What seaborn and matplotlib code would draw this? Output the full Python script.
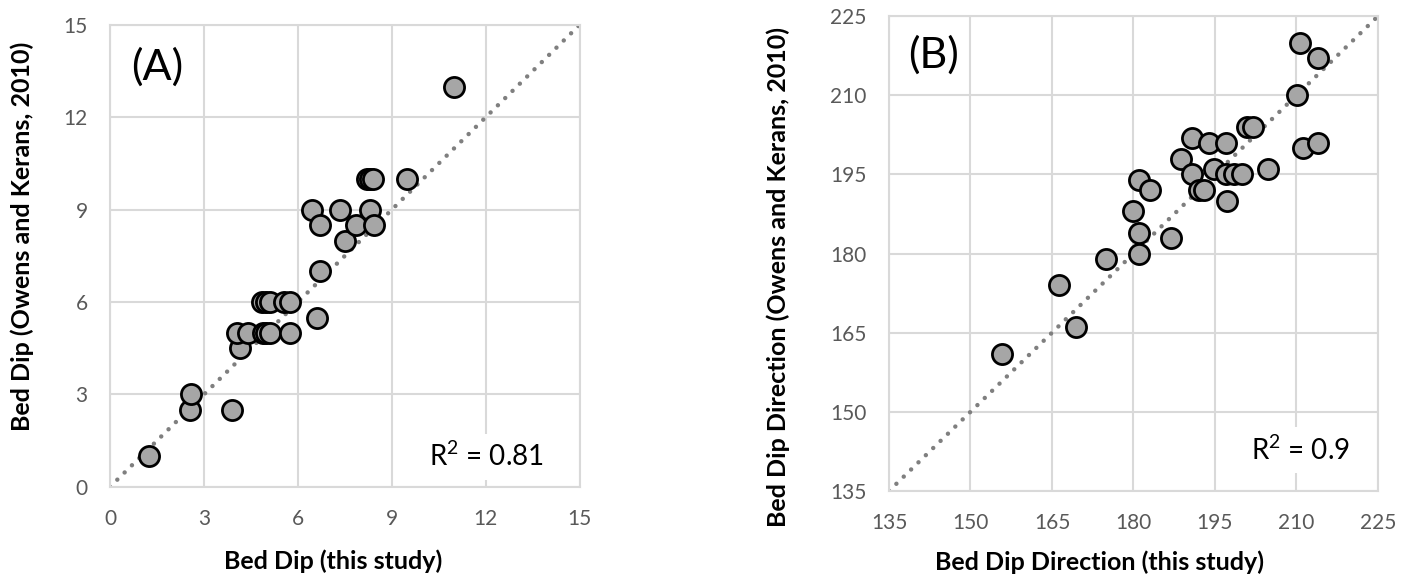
"""Bed dip comparison: this study vs Owens and Kerans (2010)."""

import matplotlib

matplotlib.use("Agg")

import matplotlib.pyplot as plt
import pandas as pd
import seaborn as sns

# Panel A: bed dip (degrees)
dip_this = [1.25, 2.55, 2.6, 3.9, 4.15, 4.05, 4.4, 4.9, 5.0, 5.1, 5.75,
            4.85, 5.0, 5.1, 5.55, 5.75, 6.6, 6.7, 6.45, 6.7, 7.35, 7.5,
            7.85, 8.3, 8.45, 8.2, 8.3, 8.4, 9.5, 11.0]
dip_owens = [1.0, 2.5, 3.0, 2.5, 4.5, 5.0, 5.0, 5.0, 5.0, 5.0, 5.0,
             6.0, 6.0, 6.0, 6.0, 6.0, 5.5, 7.0, 9.0, 8.5, 9.0, 8.0,
             8.5, 9.0, 8.5, 10.0, 10.0, 10.0, 10.0, 13.0]

# Panel B: bed dip direction (degrees)
dir_this = [155.8, 166.3, 169.5, 175.0, 180.0, 181.0, 181.0, 181.0, 183.0,
            187.0, 188.8, 190.8, 190.8, 192.0, 193.0, 194.0, 194.8, 197.2,
            197.0, 198.5, 197.0, 200.0, 201.0, 202.0, 204.8, 210.2, 210.7,
            211.2, 214.0, 214.0]
dir_owens = [161.0, 174.0, 166.0, 179.0, 188.0, 184.0, 180.0, 194.0, 192.0,
             183.0, 198.0, 195.0, 202.0, 192.0, 192.0, 201.0, 196.0, 190.0,
             195.0, 195.0, 201.0, 195.0, 204.0, 204.0, 196.0, 210.0, 220.0,
             200.0, 217.0, 201.0]

dip_ticks = [0, 3, 6, 9, 12, 15]
dir_ticks = [135, 150, 165, 180, 195, 210, 225]

GRID = "#d9d9d9"
TICK = "#595959"

sns.set_theme(style="white")
plt.rcParams["font.family"] = ["Lato", "DejaVu Sans"]
plt.rcParams["mathtext.fontset"] = "custom"
plt.rcParams["mathtext.rm"] = "Lato"
plt.rcParams["mathtext.default"] = "rm"


def draw_panel(ax, x, y, ticks, tag, r2, xlabel, ylabel, r2_pos, ylab_pos, xlab_pos, tag_pos):
    lo, hi = ticks[0], ticks[-1]
    ax.plot([lo, hi], [lo, hi], color="#7f7f7f", lw=3.2,
            linestyle=(0, (0.01, 2.3)), dash_capstyle="round", zorder=2)
    df = pd.DataFrame({"x": x, "y": y})
    sns.scatterplot(data=df, x="x", y="y", ax=ax, s=210, color="#a6a6a6",
                    edgecolor="black", linewidth=2.0, zorder=3, clip_on=False)
    ax.set_xlim(lo, hi)
    ax.set_ylim(lo, hi)
    ax.set_xticks(ticks)
    ax.set_yticks(ticks)
    ax.grid(True, color=GRID, lw=1.5)
    ax.set_axisbelow(True)
    for sp in ax.spines.values():
        sp.set_color(GRID)
        sp.set_linewidth(1.5)
    ax.tick_params(length=0, labelsize=15, colors=TICK, pad=16)
    ax.set_xlabel(xlabel, fontsize=18, fontweight="bold", color="black")
    ax.set_ylabel(ylabel, fontsize=18, fontweight="bold", color="black")
    ax.xaxis.set_label_coords(*xlab_pos)
    ax.yaxis.set_label_coords(*ylab_pos)
    ax.text(*tag_pos, tag, transform=ax.transAxes, fontsize=31,
            ha="center", va="center", color="black")
    ax.text(*r2_pos, r2, transform=ax.transAxes, fontsize=20,
            ha="right", va="center", color="black", zorder=4,
            bbox=dict(facecolor="white", edgecolor="none", pad=6))


fig = plt.figure(figsize=(14.1, 5.81), dpi=100)
ax_a = fig.add_axes([0.078, 0.162, 0.333, 0.795])
ax_b = fig.add_axes([0.6305, 0.155, 0.3467, 0.817])

draw_panel(ax_a, dip_this, dip_owens, dip_ticks, "(A)", "R$^{2}$ = 0.81",
           "Bed Dip (this study)", "Bed Dip (Owens and Kerans, 2010)",
           (0.925, 0.065), (-0.162, 0.543), (0.475, -0.136), (0.1, 0.91))
draw_panel(ax_b, dir_this, dir_owens, dir_ticks, "(B)", "R$^{2}$ = 0.9",
           "Bed Dip Direction (this study)",
           "Bed Dip Direction (Owens and Kerans, 2010)",
           (0.943, 0.086), (-0.2025, 0.45), (0.43, -0.125), (0.09, 0.918))

fig.savefig("out.png", dpi=100)
plt.close(fig)
